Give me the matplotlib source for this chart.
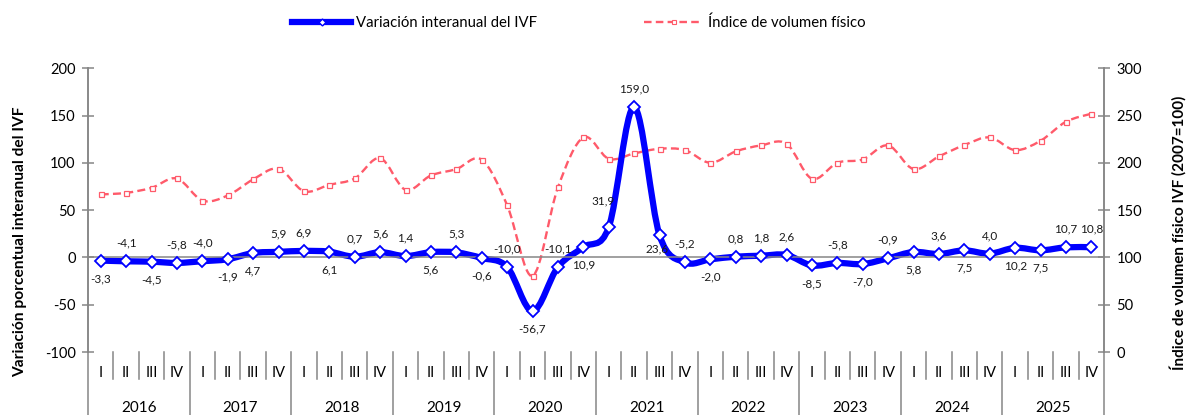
import matplotlib
matplotlib.use('Agg')
import matplotlib.pyplot as plt
import numpy as np
from matplotlib.path import Path
from matplotlib.patches import PathPatch
from matplotlib.lines import Line2D
from matplotlib.transforms import blended_transform_factory

plt.rcParams['font.family'] = ['Lato', 'DejaVu Sans']
plt.rcParams['axes.unicode_minus'] = False

years = ['2016', '2017', '2018', '2019', '2020', '2021', '2022', '2023', '2024', '2025']
quarters = ['I', 'II', 'III', 'IV']

# variacion interanual del IVF (%)
variacion = [-3.3, -4.1, -4.5, -5.8,
             -4.0, -1.9, 4.7, 5.9,
             6.9, 6.1, 0.7, 5.6,
             1.4, 5.6, 5.3, -0.6,
             -10.0, -56.7, -10.1, 10.9,
             31.9, 159.0, 23.6, -5.2,
             -2.0, 0.8, 1.8, 2.6,
             -8.5, -5.8, -7.0, -0.9,
             5.8, 3.6, 7.5, 4.0,
             10.2, 7.5, 10.7, 10.8]

# indice de volumen fisico (2007=100)
indice = [166.6, 168.3, 173.6, 183.5,
          160.2, 165.5, 182.5, 193.8,
          170.1, 176.8, 183.5, 205.0,
          171.5, 186.7, 193.4, 203.3,
          155.3, 80.4, 174.0, 226.9,
          204.3, 210.0, 214.9, 213.5,
          200.1, 212.1, 218.5, 220.2,
          183.2, 200.1, 203.6, 218.5,
          193.4, 206.8, 218.8, 226.9,
          213.5, 223.4, 243.5, 252.0]

# +1 = label above the point, -1 = below
label_side = [-1, 1, -1, 1,
              1, -1, -1, 1,
              1, -1, 1, 1,
              1, -1, 1, -1,
              1, -1, 1, -1,
              1, 1, -1, 1,
              -1, 1, 1, 1,
              -1, 1, -1, 1,
              -1, 1, -1, 1,
              -1, -1, 1, 1]

BLUE = '#0000FF'
RED = '#FF5A6A'
GREY = '#868686'


def smooth_path(x, y):
    # excel style smoothed line: cubic bezier through every point
    n = len(x)
    verts = [(x[0], y[0])]
    codes = [Path.MOVETO]
    for i in range(n - 1):
        a = max(i - 1, 0)
        d = min(i + 2, n - 1)
        c1 = (x[i] + (x[i + 1] - x[a]) / 6, y[i] + (y[i + 1] - y[a]) / 6)
        c2 = (x[i + 1] - (x[d] - x[i]) / 6, y[i + 1] - (y[d] - y[i]) / 6)
        verts += [c1, c2, (x[i + 1], y[i + 1])]
        codes += [Path.CURVE4] * 3
    return Path(verts, codes)


n = len(variacion)
xs = np.arange(n) + 0.5

fig = plt.figure(figsize=(11.86, 4.15), dpi=100)
ax_r = fig.add_axes([0.0742, 0.1518, 0.8567, 0.6836])
ax_l = ax_r.twinx()

# right axis: indice
ax_r.set_ylim(0, 300)
ax_r.set_yticks(np.arange(0, 301, 50))
ax_r.yaxis.tick_right()
ax_r.add_patch(PathPatch(smooth_path(xs, indice), fill=False, edgecolor=RED,
                         lw=1.7, linestyle=(0, (3.4, 1.8)), zorder=2))
ax_r.plot(xs, indice, ls='none', marker='s', ms=3.6, mfc='white', mec=RED, mew=0.9, zorder=3)

# left axis: variacion
ax_l.set_ylim(-100, 200)
ax_l.set_yticks(np.arange(-100, 201, 50))
ax_l.yaxis.tick_left()
ax_l.add_patch(PathPatch(smooth_path(xs, variacion), fill=False, edgecolor=BLUE,
                         lw=4.5, capstyle='round', joinstyle='round', zorder=2))
ax_l.plot(xs, variacion, ls='none', marker='D', ms=5.8, mfc='white', mec=BLUE, mew=1.3, zorder=3)

for x, v, s in zip(xs, variacion, label_side):
    dx, dy = 0, 13 * s
    if v == 31.9:
        dx, dy = -4, 19
    if v == 23.6:
        dx, dy = -2, -10
    ax_l.annotate(f'{v:.1f}'.replace('.', ','), (x, v), xytext=(dx, dy),
                  textcoords='offset points', ha='center', va='center',
                  fontsize=8.5, color='#1a1a1a')

ax_r.set_xlim(0, n)
for a in (ax_r, ax_l):
    for sp in ('top', 'bottom'):
        a.spines[sp].set_visible(False)
    for sp in ('left', 'right'):
        a.spines[sp].set_color(GREY)
        a.spines[sp].set_linewidth(1.1)
    a.tick_params(axis='y', direction='inout', length=8, width=1.1, color=GREY,
                  labelsize=10.5, pad=5)

# zero line of the category axis with boundary ticks
ax_l.spines['bottom'].set_visible(True)
ax_l.spines['bottom'].set_position(('data', 0))
ax_l.spines['bottom'].set_color(GREY)
ax_l.spines['bottom'].set_linewidth(1.1)
ax_l.set_xticks(np.arange(1, n))
ax_l.tick_params(axis='x', direction='inout', length=8, width=1.1, color=GREY, labelbottom=False)
ax_r.tick_params(axis='x', bottom=False, labelbottom=False)

# multi-level category labels below the plot
tr = blended_transform_factory(ax_l.transData, ax_l.transAxes)
for k in range(n + 1):
    y_end = -0.225 if k % 4 == 0 else -0.095
    ax_l.add_line(Line2D([k, k], [0, y_end], transform=tr, color=GREY, lw=1.1, clip_on=False))
for k in range(n):
    ax_l.text(k + 0.5, -0.074, quarters[k % 4], transform=tr, ha='center', va='center', fontsize=10.5)
for j, yr in enumerate(years):
    ax_l.text(j * 4 + 2, -0.198, yr, transform=tr, ha='center', va='center', fontsize=11)

fig.text(0.0169, 0.417, 'Variación porcentual interanual del IVF', rotation=90,
         ha='center', va='center', fontsize=11.2, fontweight='bold')
fig.text(0.993, 0.4386, 'Índice de volumen físico IVF (2007=100)', rotation=90,
         ha='center', va='center', fontsize=11, fontweight='bold')

handles = [Line2D([], [], color=BLUE, lw=4.5, marker='D', ms=3.5, mfc='white', mec=BLUE, mew=1),
           Line2D([], [], color=RED, lw=1.7, ls=(0, (3.2, 1.8)), marker='s', ms=3, mfc='white',
                  mec=RED, mew=0.8)]
fig.legend(handles, ['Variación interanual del IVF', 'Índice de volumen físico'],
           loc='center', bbox_to_anchor=(0.488, 0.945), ncol=2, frameon=False,
           handlelength=4.0, handletextpad=0.3, columnspacing=7.2, numpoints=1, fontsize=10.7)

fig.savefig('out.png', dpi=100)
